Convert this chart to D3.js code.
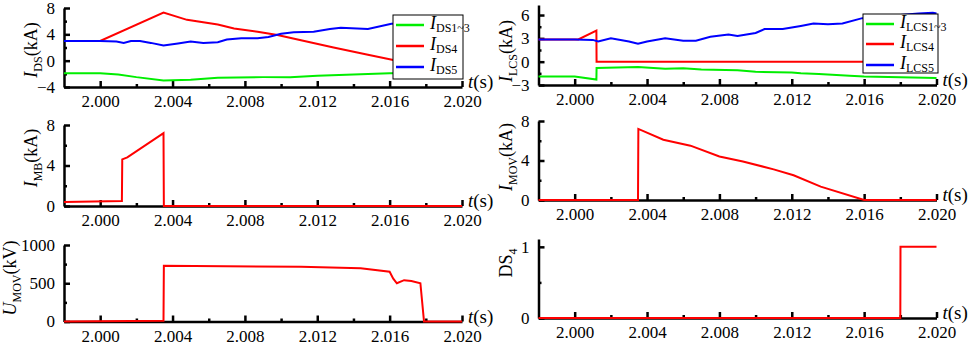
<!DOCTYPE html>
<html>
<head>
<meta charset="utf-8">
<script src="https://cdn.jsdelivr.net/npm/d3@7"></script>
<style>
  body { margin: 0; background: #fff; }
  svg { display: block; }
  .axis path.domain { stroke: #000; stroke-width: 2.5; }
  .axis line { stroke: #000; stroke-width: 2.5; }
</style>
</head>
<body>
<svg id="chart" width="969" height="345"></svg>
<script>
// time ticks (s)
const xMajor = [2.000, 2.004, 2.008, 2.012, 2.016, 2.020];
const xMinor = [2.002, 2.006, 2.010, 2.014, 2.018];

// disconnector currents I_DS (kA), [t, value]
const ids13 = [[1.998,-1.9],[2.000,-1.9],[2.001,-2.1],[2.002,-2.5],[2.0035,-3.0],[2.005,-2.9],[2.0065,-2.6],[2.009,-2.5],[2.0105,-2.5],[2.012,-2.3],[2.014,-2.1],[2.016,-1.9],[2.020,-1.8]];
const ids4 = [[1.998,3.0],[2.000,3.0],[2.0035,7.3],[2.0048,6.2],[2.0065,5.5],[2.0074,4.9],[2.0087,4.4],[2.0098,3.9],[2.0111,3.1],[2.0129,2.0],[2.0148,0.9],[2.0162,0.1],[2.0165,0],[2.020,0]];
const ids5 = [[1.998,3.0],[2.000,3.0],[2.0009,2.9],[2.0013,2.7],[2.0017,3.0],[2.0022,3.0],[2.0028,2.7],[2.0035,2.3],[2.0043,2.6],[2.005,2.9],[2.0057,2.7],[2.0065,2.8],[2.007,3.2],[2.0078,3.4],[2.0087,3.4],[2.0093,3.6],[2.010,4.1],[2.0107,4.3],[2.0118,4.4],[2.0127,4.8],[2.0133,5.0],[2.0148,4.8],[2.0161,5.6],[2.018,5.8],[2.020,6.0]];

// LCS currents I_LCS (kA)
const ilcs13 = [[1.998,-1.9],[2.000,-1.9],[2.0012,-2.3],[2.00121,-0.8],[2.0035,-0.7],[2.005,-0.9],[2.006,-0.85],[2.007,-1.0],[2.009,-1.1],[2.010,-1.3],[2.012,-1.4],[2.0125,-1.5],[2.0135,-1.6],[2.0152,-1.8],[2.016,-1.9],[2.020,-2.1]];
const ilcs4 = [[1.998,2.85],[2.0002,2.85],[2.0012,4.0],[2.00121,0],[2.020,0]];
const ilcs5 = [[1.998,2.85],[2.000,2.85],[2.001,2.8],[2.0013,2.6],[2.002,3.0],[2.003,2.6],[2.0035,2.3],[2.004,2.6],[2.005,3.0],[2.006,2.7],[2.0067,2.7],[2.0075,3.2],[2.0085,3.5],[2.009,3.3],[2.010,3.7],[2.0105,4.2],[2.0115,4.2],[2.012,4.4],[2.0125,4.6],[2.0132,4.9],[2.014,4.8],[2.0148,4.9],[2.0159,5.6],[2.017,5.8],[2.018,6.0],[2.019,6.2],[2.0198,6.3],[2.020,6.2]];

// main breaker current, MOV current (kA), MOV voltage (kV), DS4 state
const imb = [[1.998,0.4],[2.0012,0.5],[2.00122,4.6],[2.0015,4.8],[2.0035,7.2],[2.00352,0],[2.020,0]];
const imov = [[1.998,0],[2.0035,0],[2.00352,7.2],[2.0049,6.1],[2.0064,5.5],[2.008,4.4],[2.0093,3.9],[2.011,3.1],[2.0121,2.5],[2.0136,1.35],[2.016,0],[2.020,0]];
const umov = [[1.998,0],[2.0035,10],[2.00352,730],[2.0111,715],[2.0144,695],[2.016,650],[2.0162,560],[2.0164,500],[2.0168,540],[2.0172,530],[2.0177,500],[2.0179,0],[2.020,0]];
const ds4 = [[1.998,0],[2.018,0],[2.01801,1],[2.020,1]];

const GREEN = "#00ee00", RED = "#ff0000", BLUE = "#0000ff";
const FONT = '"Liberation Serif", "Times New Roman", serif';

const svg = d3.select("#chart");

function panel(o) {
    const x = d3.scaleLinear().domain([1.998, 2.020]).range([o.left, o.right]);
    const y = d3.scaleLinear().domain(o.ydom).range([o.bottom, o.top]);
    const g = svg.append("g");

    // minor ticks first
    g.append("g").attr("class", "axis").attr("transform", `translate(0,${o.bottom})`)
        .call(d3.axisBottom(x).tickValues(xMinor).tickSize(-3).tickFormat(""))
        .call(s => s.select(".domain").remove());
    g.append("g").attr("class", "axis").attr("transform", `translate(${o.left},0)`)
        .call(d3.axisLeft(y).tickValues(o.yMinor).tickSize(-3).tickFormat(""))
        .call(s => s.select(".domain").remove());

    g.append("g").attr("class", "axis").attr("transform", `translate(0,${o.bottom})`)
        .call(d3.axisBottom(x).tickValues(xMajor).tickSize(-6).tickSizeOuter(0).tickPadding(8).tickFormat(d3.format(".3f")));
    g.append("g").attr("class", "axis").attr("transform", `translate(${o.left},0)`)
        .call(d3.axisLeft(y).tickValues(o.yMajor).tickSize(-6).tickSizeOuter(0).tickPadding(9).tickFormat(d3.format("d")));

    const line = d3.line().x(d => x(d[0])).y(d => y(d[1]));
    o.series.forEach(s => {
        g.append("path").attr("d", line(s.data)).attr("fill", "none")
            .attr("stroke", s.color).attr("stroke-width", 2);
    });

    // t(s)
    const tl = g.append("text").attr("x", o.right + 6).attr("y", o.bottom + 1)
        .attr("font-size", 19);
    tl.append("tspan").attr("font-style", "italic").text("t");
    tl.append("tspan").text("(s)");

    // y title
    const yt = g.append("text").attr("text-anchor", "middle").attr("font-size", 18)
        .attr("transform", `translate(${o.titleX},${o.titleY}) rotate(-90)`);
    yt.append("tspan").attr("font-style", o.italic ? "italic" : "normal").text(o.sym);
    yt.append("tspan").attr("font-size", 12).attr("dy", 5).text(o.sub);
    if (o.unit) yt.append("tspan").attr("dy", -5).text(o.unit);

    if (o.legend) {
        const L = o.legend;
        g.append("rect").attr("x", L.x).attr("y", L.y).attr("width", L.w).attr("height", L.h)
            .attr("fill", "#fff").attr("stroke", "#000").attr("stroke-width", 1);
        L.items.forEach((it, i) => {
            const yy = L.y + L.rows[i];
            g.append("line").attr("x1", L.x + 3).attr("x2", L.x + 31).attr("y1", yy).attr("y2", yy)
                .attr("stroke", it.color).attr("stroke-width", 2.5);
            const t = g.append("text").attr("x", L.x + 37).attr("y", yy + 4).attr("font-size", 18);
            t.append("tspan").attr("font-style", "italic").text("I");
            t.append("tspan").attr("font-size", 12).attr("dy", 3).text(it.sub);
        });
    }
}

const L = {left: 64, right: 462}, R = {left: 538.5, right: 936.5};

panel({...L, top: 8, bottom: 87, ydom: [-4, 8], yMajor: [-4, 0, 4, 8], yMinor: [-2, 2, 6],
    sym: "I", italic: true, sub: "DS", unit: "(kA)", titleX: 37, titleY: 50,
    series: [{data: ids13, color: GREEN}, {data: ids4, color: RED}, {data: ids5, color: BLUE}],
    legend: {x: 393, y: 15, w: 70, h: 64, rows: [10, 31, 52],
        items: [{sub: "DS1~3", color: GREEN}, {sub: "DS4", color: RED}, {sub: "DS5", color: BLUE}]}});

panel({...R, top: 5, bottom: 85, ydom: [-3, 7.29], yMajor: [-3, 0, 3, 6], yMinor: [-1.5, 1.5, 4.5],
    sym: "I", italic: true, sub: "LCS", unit: "(kA)", titleX: 512, titleY: 51,
    series: [{data: ilcs13, color: GREEN}, {data: ilcs4, color: RED}, {data: ilcs5, color: BLUE}],
    legend: {x: 863, y: 14, w: 75, h: 59, rows: [10, 30, 51],
        items: [{sub: "LCS1~3", color: GREEN}, {sub: "LCS4", color: RED}, {sub: "LCS5", color: BLUE}]}});

panel({...L, top: 125, bottom: 206, ydom: [0, 8], yMajor: [0, 4, 8], yMinor: [2, 6],
    sym: "I", italic: true, sub: "MB", unit: "(kA)", titleX: 37, titleY: 158,
    series: [{data: imb, color: RED}]});

panel({...R, top: 121, bottom: 200, ydom: [0, 8], yMajor: [0, 4, 8], yMinor: [2, 6],
    sym: "I", italic: true, sub: "MOV", unit: "(kA)", titleX: 512, titleY: 157,
    series: [{data: imov, color: RED}]});

panel({...L, top: 245, bottom: 321.5, ydom: [0, 1000], yMajor: [0, 500, 1000], yMinor: [250, 750],
    sym: "U", italic: true, sub: "MOV", unit: "(kV)", titleX: 16, titleY: 278,
    series: [{data: umov, color: RED}]});

panel({...R, top: 239, bottom: 318, ydom: [0, 1.11], yMajor: [0, 1], yMinor: [0.5],
    sym: "DS", italic: false, sub: "4", unit: "", titleX: 512, titleY: 263,
    series: [{data: ds4, color: RED}]});

// serif everywhere, axis text size
svg.selectAll("text").style("font-family", FONT).attr("fill", "#000");
svg.selectAll(".axis text").style("font-size", "17px");
</script>
</body>
</html>
